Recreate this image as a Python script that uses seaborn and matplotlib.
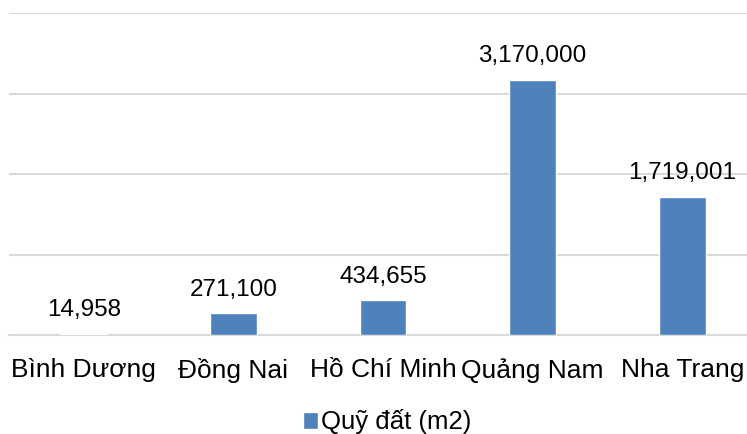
import matplotlib
matplotlib.use("Agg")
import matplotlib.pyplot as plt
import seaborn as sns
import pandas as pd

categories = ["Bình Dương", "Đồng Nai", "Hồ Chí Minh", "Quảng Nam", "Nha Trang"]
values = [14958, 271100, 434655, 3170000, 1719001]
series_name = "Quỹ đất (m2)"

df = pd.DataFrame({"cat": categories, "val": values, "series": [series_name] * len(categories)})

sns.set_theme(style="white")
plt.rcParams["font.family"] = ["Liberation Sans", "DejaVu Sans"]

fig = plt.figure(figsize=(7.47, 4.34), dpi=100)
ax = fig.add_axes([9 / 747, (434 - 335) / 434, 748 / 747, (335 - 13) / 434])

sns.barplot(data=df, x="cat", y="val", hue="series", palette=["#4f81bd"],
            width=0.314, saturation=1, ax=ax, legend=True)

ax.set_ylim(0, 4000000)
ax.set_xlim(-0.5, 4.5)
ax.set_yticks([0, 1000000, 2000000, 3000000, 4000000])
ax.set_yticklabels([])
ax.tick_params(axis="y", length=0)
ax.tick_params(axis="x", length=0, pad=16.5, labelsize=19, labelcolor="black")
ax.grid(axis="y", color="#d9d9d9", linewidth=1.5)
ax.set_axisbelow(True)
for s in ["top", "right", "left"]:
    ax.spines[s].set_visible(False)
ax.spines["bottom"].set_color("#d9d9d9")
ax.spines["bottom"].set_linewidth(1.5)
ax.spines["bottom"].set_zorder(0.5)
ax.set_xlabel("")
ax.set_ylabel("")

for c in ax.containers:
    ax.bar_label(c, labels=[f"{v:,.0f}" for v in c.datavalues], padding=9,
                 fontsize=17.5, color="black")

handles, labels = ax.get_legend_handles_labels()
ax.get_legend().remove()
fig.legend(handles, labels, loc="center", bbox_to_anchor=(387 / 747, 1 - 422 / 434),
           frameon=False, fontsize=18.5, handlelength=0.6, handleheight=0.6,
           handletextpad=0.1, borderpad=0, labelcolor="black")

fig.savefig("out.png", dpi=100)
